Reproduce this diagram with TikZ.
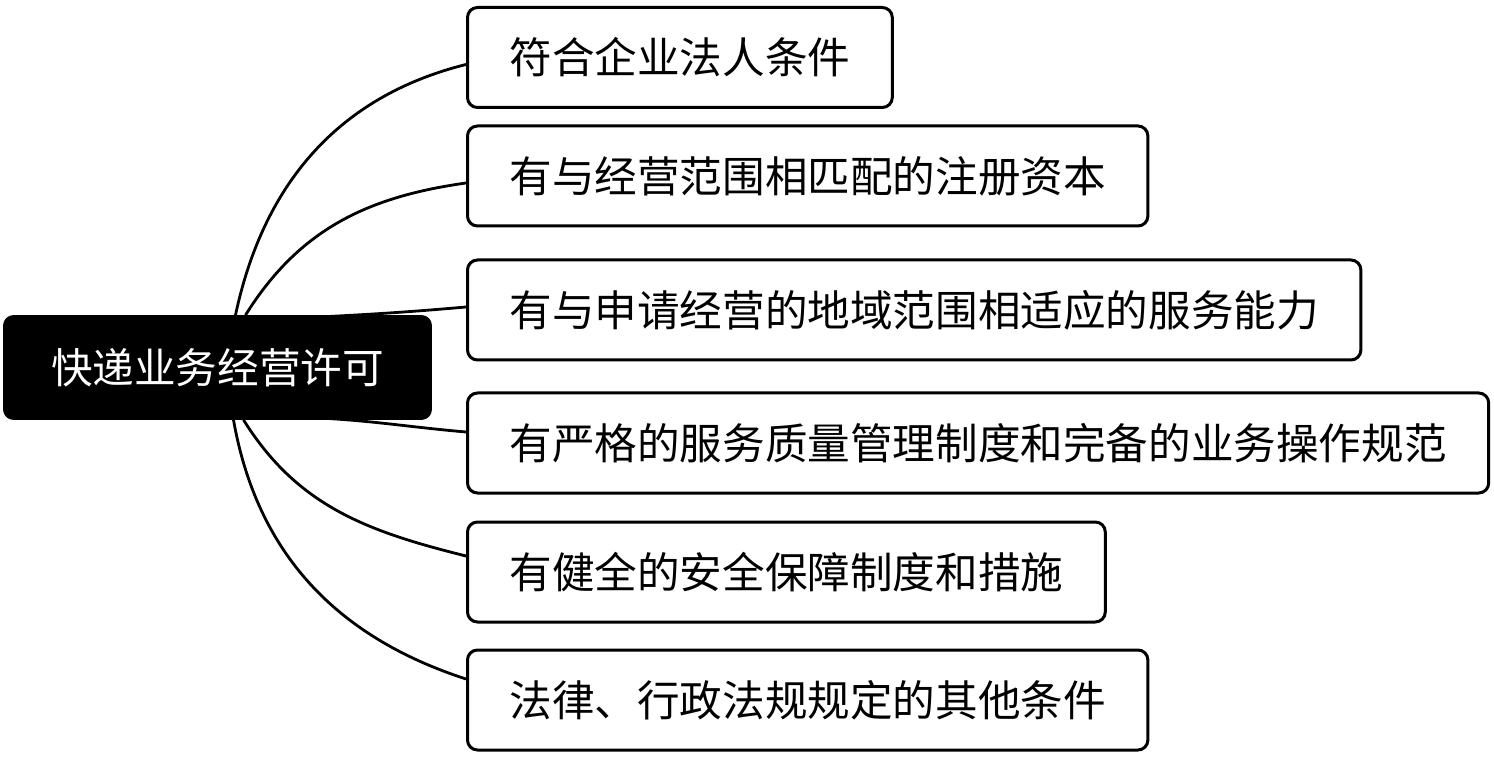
\documentclass[tikz,border=0pt]{standalone}
\usepackage{fontspec}
\newfontfamily\cjk{Noto Sans CJK SC}
\usetikzlibrary{backgrounds}

\begin{document}
\begin{tikzpicture}[x=0.5pt,y=0.5pt,
  rootbox/.style={fill=black,draw=black,rounded corners=5pt,text=white,
    minimum width=214pt,minimum height=52pt,font=\cjk\fontsize{20.8pt}{21pt}\selectfont},
  itembox/.style={draw=black,line width=1.5pt,rounded corners=5pt,anchor=west,
    inner xsep=21pt,minimum height=50pt,font=\cjk\fontsize{21.3pt}{22pt}\selectfont},
  branch/.style={draw=black,line width=1.4pt}]
  \useasboundingbox (0,0) rectangle (1494,756);

  \node[rootbox] (root) at (217.5,388.5) {快递业务经营许可};

  \node[itembox] (b1) at (466,698.5) {符合企业法人条件};
  \node[itembox] (b2) at (466,580) {有与经营范围相匹配的注册资本};
  \node[itembox] (b3) at (466,446) {有与申请经营的地域范围相适应的服务能力};
  \node[itembox] (b4) at (466,313) {有严格的服务质量管理制度和完备的业务操作规范};
  \node[itembox] (b5) at (466,184) {有健全的安全保障制度和措施};
  \node[itembox] (b6) at (466,56) {法律、行政法规规定的其他条件};

  \begin{scope}[on background layer]
    \draw[branch] ([xshift=9pt]root.north) to[out=78,in=194] ([yshift=-3.5pt]b1.west);
    \draw[branch] ([xshift=14pt]root.north) to[out=58,in=188] ([yshift=-3.5pt]b2.west);
    \draw[branch] ([xshift=50pt,yshift=-1pt]root.north) to[out=3,in=185] ([yshift=1.5pt]b3.west);
    \draw[branch] ([xshift=50pt,yshift=1pt]root.south) to[out=-3,in=175] ([yshift=5.5pt]b4.west);
    \draw[branch] ([xshift=13pt]root.south) to[out=-58,in=166] ([yshift=8pt]b5.west);
    \draw[branch] ([xshift=8pt]root.south) to[out=-80,in=162] ([yshift=10.5pt]b6.west);
  \end{scope}
\end{tikzpicture}
\end{document}
